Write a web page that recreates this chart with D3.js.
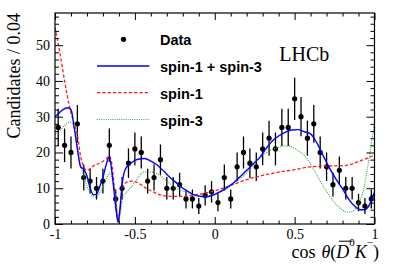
<!DOCTYPE html>
<html>
<head>
<meta charset="utf-8">
<script src="https://cdn.jsdelivr.net/npm/d3@7"></script>
<style>
  body { margin: 0; background: #fff; }
  svg { display: block; }
</style>
</head>
<body>
<div id="chart"></div>
<script>
// Histogram: 50 bins of 0.04 on cos theta
const binLow = -1, binWidth = 0.04;
const counts = [27, 22, 20, 28, 13, 12, 10, 12, 22, 7,
                10, 17, 21, 20, 12, 13, 18, 10, 10, 11,
                7, 7, 5, 8, 9, 6, 13, 7, 16, 20,
                17, 16, 21, 24, 21, 27, 27, 35, 30, 24,
                28, 20, 16, 11, 15, 10, 10, 6, 5, 7];

// Fit curves
const totalX = [-1.0, -0.975, -0.95, -0.92, -0.9, -0.88, -0.86, -0.84, -0.82, -0.8, -0.78, -0.76, -0.74, -0.72, -0.7, -0.68, -0.66, -0.645, -0.63, -0.615, -0.605, -0.595, -0.58, -0.56, -0.52, -0.48, -0.44, -0.4, -0.36, -0.32, -0.28, -0.24, -0.2, -0.16, -0.12, -0.08, -0.04, 0.0, 0.04, 0.08, 0.12, 0.16, 0.2, 0.24, 0.28, 0.32, 0.36, 0.4, 0.44, 0.48, 0.52, 0.56, 0.6, 0.64, 0.68, 0.72, 0.76, 0.8, 0.84, 0.88, 0.91, 0.94, 0.97, 1.0];
const totalY = [30, 31, 32, 32.5, 32, 27, 21, 16, 15.3, 13.5, 10, 8.2, 8.3, 10.5, 13, 16.5, 18.8, 15, 9, 3, 0.5, 3.5, 11, 15.3, 17.2, 18.1, 18.3, 17.6, 16.5, 14.8, 13, 11.5, 10, 8.9, 8, 7.7, 7.7, 8.3, 9.2, 10.3, 11.6, 13.3, 15, 16.8, 18.5, 21, 23.2, 24.6, 25.6, 26.3, 26.4, 25.8, 25.2, 22.6, 19, 15.5, 12.5, 9.8, 6.8, 4.8, 4.0, 4.0, 5.5, 9];

const spin1X = [-1.0, -0.97, -0.94, -0.91, -0.88, -0.86, -0.84, -0.82, -0.8, -0.78, -0.76, -0.72, -0.68, -0.66, -0.645, -0.63, -0.615, -0.605, -0.595, -0.58, -0.56, -0.52, -0.48, -0.44, -0.4, -0.35, -0.3, -0.2, -0.1, 0.0, 0.1, 0.2, 0.3, 0.4, 0.5, 0.6, 0.7, 0.8, 0.85, 0.9, 0.95, 1.0];
const spin1Y = [55, 48, 40, 33, 28, 25, 19, 16, 15, 15.5, 16.2, 17, 18.2, 19, 17, 11, 4, 0.5, 3, 9.5, 11.4, 12, 11.5, 10.3, 9.3, 8.3, 7.8, 7.7, 8.3, 9.3, 10.8, 12.4, 13.6, 14.5, 15.2, 16, 16.2, 16.3, 16.6, 17.5, 18.3, 19.3];

const spin3X = [-1.0, -0.97, -0.94, -0.91, -0.89, -0.87, -0.85, -0.83, -0.81, -0.79, -0.77, -0.75, -0.73, -0.71, -0.69, -0.67, -0.655, -0.64, -0.625, -0.61, -0.6, -0.59, -0.575, -0.55, -0.52, -0.48, -0.44, -0.4, -0.36, -0.32, -0.28, -0.24, -0.2, -0.14, -0.08, -0.02, 0.02, 0.06, 0.1, 0.14, 0.18, 0.22, 0.26, 0.3, 0.34, 0.38, 0.44, 0.48, 0.52, 0.56, 0.6, 0.64, 0.68, 0.72, 0.76, 0.8, 0.84, 0.87, 0.9, 0.93, 0.95, 0.97, 0.985, 1.0];
const spin3Y = [25, 26, 27.5, 28.5, 28, 25, 19, 15, 12, 9.5, 8, 7.5, 8, 9.5, 11.5, 13.5, 14.3, 12.5, 9.5, 4, 1, 3.5, 7.5, 9, 10.5, 13, 14.6, 14.6, 14, 12.8, 11.3, 10, 9.2, 8.3, 7.8, 7.9, 8.6, 9.4, 10.6, 12, 13.5, 15.3, 17.5, 19.2, 20.4, 21.2, 21.8, 21.6, 20.6, 19.2, 16.7, 13.6, 10.5, 7.8, 5.5, 3.9, 3.3, 3.8, 5.8, 9.5, 14, 19.5, 24, 28];

// Axis ticks and labels
const xMajor = [-1, -0.5, 0, 0.5, 1];
const xLabels = ["-1", "-0.5", "0", "0.5", "1"];
const yMajor = [0, 10, 20, 30, 40, 50];
const legendLabels = ["Data", "spin-1 + spin-3", "spin-1", "spin-3"];

const W = 394, H = 267;
const frame = { left: 55, right: 374.5, top: 13, bottom: 224 };

const svg = d3.select("#chart").append("svg")
    .attr("width", W)
    .attr("height", H);

const x = d3.scaleLinear().domain([-1, 1]).range([frame.left, frame.right]);
const y = d3.scaleLinear().domain([0, 59]).range([frame.bottom, frame.top]);

const serif = "'Liberation Serif', 'Times New Roman', serif";
const sans = "'Liberation Sans', Arial, sans-serif";

// clip for curves
svg.append("clipPath").attr("id", "clip")
    .append("rect")
    .attr("x", frame.left).attr("y", frame.top)
    .attr("width", frame.right - frame.left)
    .attr("height", frame.bottom - frame.top);

// Data points with error bars
const data = counts.map((c, i) => ({ cx: binLow + binWidth * (i + 0.5), n: c }));
const pts = svg.append("g");
pts.selectAll("line")
    .data(data)
    .enter()
    .append("line")
    .attr("x1", d => x(d.cx))
    .attr("x2", d => x(d.cx))
    .attr("y1", d => y(d.n - Math.sqrt(d.n)))
    .attr("y2", d => y(d.n + Math.sqrt(d.n)))
    .attr("stroke", "#000")
    .attr("stroke-width", 1.3);
pts.selectAll("circle")
    .data(data)
    .enter()
    .append("circle")
    .attr("cx", d => x(d.cx))
    .attr("cy", d => y(d.n))
    .attr("r", 2.6)
    .attr("fill", "#000");

// Curves
const line = d3.line().x(d => x(d[0])).y(d => y(d[1])).curve(d3.curveMonotoneX);
const curves = [
    { xs: spin3X, ys: spin3Y, color: "#45a845", dash: "1,1.2", w: 1.2 },
    { xs: spin1X, ys: spin1Y, color: "#ff1a1a", dash: "3.3,2", w: 1.3 },
    { xs: totalX, ys: totalY, color: "#0000ff", dash: null, w: 1.4 }
];
curves.forEach(c => {
    svg.append("path")
        .datum(d3.zip(c.xs, c.ys))
        .attr("clip-path", "url(#clip)")
        .attr("d", line)
        .attr("fill", "none")
        .attr("stroke", c.color)
        .attr("stroke-width", c.w)
        .attr("stroke-dasharray", c.dash);
});

// Axes (ticks inside, on all four sides)
const xMinor = d3.range(-10, 11).map(i => i / 10).filter(v => !xMajor.includes(v));
const yMinor = d3.range(0, 60, 2).filter(v => !yMajor.includes(v));

function styleAxis(g) {
    g.select(".domain").remove();
    g.selectAll("line").attr("stroke", "#000").attr("stroke-width", 1);
    g.selectAll("text").style("font-family", serif).style("font-size", "14px").attr("fill", "#000");
}

svg.append("g")
    .attr("transform", `translate(0,${frame.bottom})`)
    .call(d3.axisBottom(x).tickValues(xMajor).tickSize(-7).tickPadding(5.5)
        .tickFormat((d, i) => xLabels[i]))
    .call(styleAxis);
svg.append("g")
    .attr("transform", `translate(0,${frame.bottom})`)
    .call(d3.axisBottom(x).tickValues(xMinor).tickSize(-3.5).tickFormat(""))
    .call(styleAxis);
svg.append("g")
    .attr("transform", `translate(0,${frame.top})`)
    .call(d3.axisTop(x).tickValues(xMajor).tickSize(-7).tickFormat(""))
    .call(styleAxis);
svg.append("g")
    .attr("transform", `translate(0,${frame.top})`)
    .call(d3.axisTop(x).tickValues(xMinor).tickSize(-3.5).tickFormat(""))
    .call(styleAxis);

svg.append("g")
    .attr("transform", `translate(${frame.left},0)`)
    .call(d3.axisLeft(y).tickValues(yMajor).tickSize(-8).tickPadding(5).tickFormat(d3.format("d")))
    .call(styleAxis);
svg.append("g")
    .attr("transform", `translate(${frame.left},0)`)
    .call(d3.axisLeft(y).tickValues(yMinor).tickSize(-4).tickFormat(""))
    .call(styleAxis);
svg.append("g")
    .attr("transform", `translate(${frame.right},0)`)
    .call(d3.axisRight(y).tickValues(yMajor).tickSize(-8).tickFormat(""))
    .call(styleAxis);
svg.append("g")
    .attr("transform", `translate(${frame.right},0)`)
    .call(d3.axisRight(y).tickValues(yMinor).tickSize(-4).tickFormat(""))
    .call(styleAxis);

// Frame
svg.append("rect")
    .attr("x", frame.left).attr("y", frame.top)
    .attr("width", frame.right - frame.left)
    .attr("height", frame.bottom - frame.top)
    .attr("fill", "none")
    .attr("stroke", "#000")
    .attr("stroke-width", 1.2);

// Y title
svg.append("text")
    .attr("transform", `translate(19.5,${frame.top}) rotate(-90)`)
    .attr("text-anchor", "end")
    .style("font-family", serif)
    .style("font-size", "18px")
    .text("Candidates / 0.04");

// X title: cos θ(D̄⁰K⁻)
const xt = svg.append("text")
    .attr("x", 379)
    .attr("y", 257.5)
    .attr("text-anchor", "end")
    .style("font-family", serif)
    .style("font-size", "18px");
xt.append("tspan").text("cos");
xt.append("tspan").attr("dx", 6).style("font-style", "italic").text("θ");
xt.append("tspan").text("(");
xt.append("tspan").style("font-style", "italic").text("D");
xt.append("tspan").attr("dy", -12).style("font-size", "11px").text("0");
xt.append("tspan").attr("dy", 12).style("font-style", "italic").text("K");
xt.append("tspan").attr("dy", -12).style("font-size", "11px").text("−");
xt.append("tspan").attr("dy", 12).text(")");

// overline over D0 (chars: c o s θ ( D 0 K − ))
const node = xt.node();
const dExt = node.getExtentOfChar(5);
const zExt = node.getExtentOfChar(6);
svg.append("line")
    .attr("x1", dExt.x + 2.5)
    .attr("x2", zExt.x + zExt.width * 0.6)
    .attr("y1", 241.2)
    .attr("y2", 241.2)
    .attr("stroke", "#000")
    .attr("stroke-width", 1);

// LHCb label
svg.append("text")
    .attr("x", 279.3)
    .attr("y", 60.7)
    .style("font-family", serif)
    .style("font-size", "20px")
    .text("LHCb");

// Legend
const legRows = [39.3, 66, 92.7, 119.5];
const leg = svg.append("g");
leg.append("circle").attr("cx", 123.5).attr("cy", legRows[0]).attr("r", 2.6).attr("fill", "#000");
[curves[2], curves[1], curves[0]].forEach((c, i) => {
    leg.append("line")
        .attr("x1", 97).attr("x2", 149.3)
        .attr("y1", legRows[i + 1]).attr("y2", legRows[i + 1])
        .attr("stroke", c.color)
        .attr("stroke-width", c.w)
        .attr("stroke-dasharray", c.dash);
});
leg.selectAll("text")
    .data(legendLabels)
    .enter()
    .append("text")
    .attr("x", 160)
    .attr("y", (d, i) => legRows[i] + 6)
    .style("font-family", sans)
    .style("font-weight", "bold")
    .style("font-size", "14.5px")
    .text(d => d);
</script>
</body>
</html>
